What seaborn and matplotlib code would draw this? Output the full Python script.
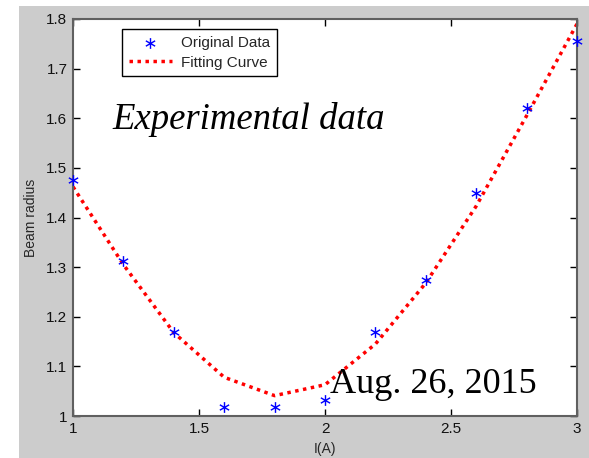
import matplotlib
matplotlib.use("Agg")
import matplotlib.pyplot as plt
import seaborn as sns
import pandas as pd
from matplotlib.patches import Rectangle

current = [1.0, 1.2, 1.4, 1.6, 1.8, 2.0, 2.2, 2.4, 2.6, 2.8, 3.0]
radius = [1.475, 1.313, 1.170, 1.018, 1.018, 1.033, 1.170, 1.275, 1.450, 1.620, 1.755]
fit = [1.462, 1.305, 1.168, 1.078, 1.041, 1.063, 1.145, 1.268, 1.423, 1.605, 1.790]
xticks = [1, 1.5, 2, 2.5, 3]
yticks = [1, 1.1, 1.2, 1.3, 1.4, 1.5, 1.6, 1.7, 1.8]
yticklabels = ["1", "1.1", "1.2", "1.3", "1.4", "1.5", "1.6", "1.7", "1.8"]

df = pd.DataFrame({"I": current, "r": radius, "fit": fit})

sns.set_theme(style="white")
plt.rcParams["font.family"] = ["Liberation Sans", "DejaVu Sans"]

fig = plt.figure(figsize=(5.89, 4.58), dpi=100, facecolor="white")
fig.patches.append(Rectangle((19 / 589, 0), 1, 1 - 6 / 458, transform=fig.transFigure,
                             facecolor="#cccccc", edgecolor="none", zorder=-10))
ax = fig.add_axes([73 / 589, 1 - 416 / 458, (577 - 73) / 589, (416 - 19) / 458])
ax.set_facecolor("white")

sns.lineplot(data=df, x="I", y="fit", ax=ax, color="red", linestyle=(0, (1, 1.3)),
             linewidth=2.5, label="Fitting Curve", zorder=2)
sns.scatterplot(data=df, x="I", y="r", ax=ax, color="blue", marker="$\\ast$", s=60,
                linewidth=0, label="Original Data", zorder=3, clip_on=False)

ax.set_xlim(1, 3)
ax.set_ylim(1, 1.8)
ax.set_xticks(xticks)
ax.set_xticklabels(["1", "1.5", "2", "2.5", "3"])
ax.set_yticks(yticks)
ax.set_yticklabels(yticklabels)
ax.tick_params(direction="in", length=5, width=1, color="black", labelsize=11,
               top=True, right=True, bottom=True, left=True, pad=4, labelcolor="#111111")
for s in ax.spines.values():
    s.set_color("#606060")
    s.set_linewidth(1.5)
ax.set_xlabel("I(A)", fontsize=10, labelpad=5)
ax.set_ylabel("Beam radius", fontsize=10, labelpad=6)

handles, labels = ax.get_legend_handles_labels()
order = [labels.index("Original Data"), labels.index("Fitting Curve")]
leg = ax.legend([handles[i] for i in order], [labels[i] for i in order],
                loc="upper left", bbox_to_anchor=(0.097, 0.974), fontsize=11,
                frameon=True, fancybox=False, edgecolor="black", framealpha=1,
                handlelength=2.8, handletextpad=0.6, borderpad=0.45, labelspacing=0.35,
                borderaxespad=0)
leg.get_frame().set_linewidth(1.0)

ax.text(1.155, 1.563, "Experimental data", fontsize=26.5, style="italic",
        family=["Liberation Serif", "DejaVu Serif"], color="black", va="bottom")
ax.text(2.02, 1.03, "Aug. 26, 2015", fontsize=26,
        family=["Liberation Serif", "DejaVu Serif"], color="black", va="bottom")

fig.savefig("out.png", dpi=100)
